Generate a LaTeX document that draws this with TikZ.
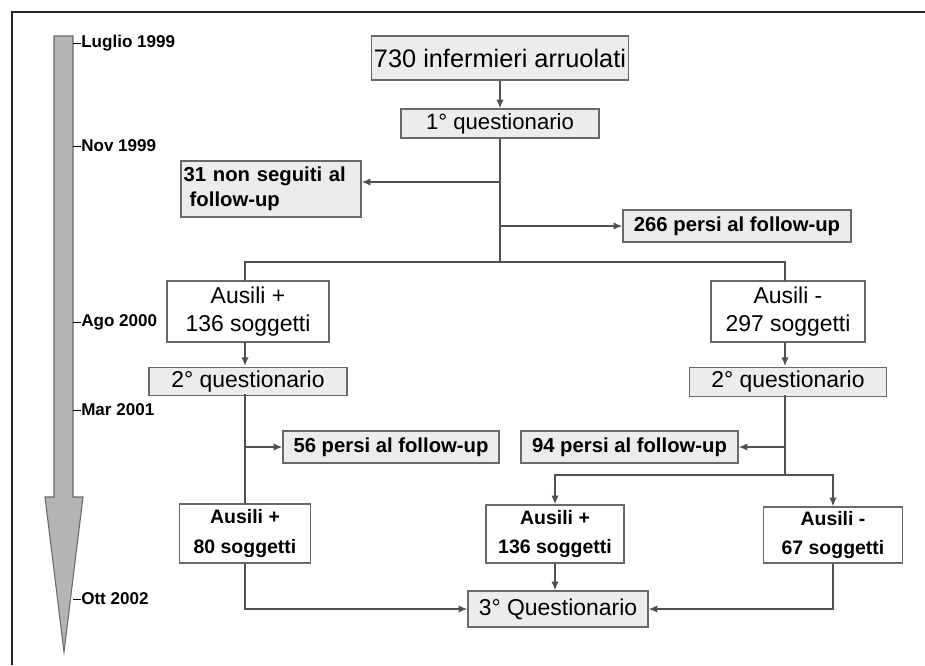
\documentclass[tikz,border=0pt]{standalone}
\usepackage{xcolor}
\usepackage{fontspec}
\setmainfont{Liberation Sans}
\usepackage{tikz}
\usetikzlibrary{arrows.meta, positioning, calc}

\definecolor{boxfill}{RGB}{236,236,236}
\definecolor{boxedge}{RGB}{105,105,105}
\definecolor{wireclr}{RGB}{80,80,80}
\definecolor{timefill}{RGB}{180,180,180}
\definecolor{timeedge}{RGB}{105,105,105}

\begin{document}
\begin{tikzpicture}[x=0.75pt, y=-0.75pt, >={Latex[length=6.5pt,width=5.5pt]}]
    \tikzset{
        greybox/.style={rectangle, draw=boxedge, fill=boxfill, line width=1pt, inner sep=2pt, align=center, font=\fontsize{16.6}{20}\selectfont},
        whitebox/.style={greybox, fill=white, font=\fontsize{17.2}{20.5}\selectfont},
        lostbox/.style={greybox, font=\fontsize{15.2}{19}\selectfont\bfseries},
        smallbox/.style={whitebox, font=\fontsize{14.6}{22}\selectfont\bfseries},
        line/.style={draw=wireclr, line width=1pt},
        arrowline/.style={line, ->},
        datelabel/.style={anchor=west, inner sep=0pt, font=\fontsize{12.8}{14}\selectfont\bfseries},
        datetick/.style={draw=black, line width=0.6pt}
    }
    \useasboundingbox (0,0) rectangle (925,665);
    \draw[line width=1pt, draw=black!85] (12,665) -- (12,12) -- (925,12);

    \draw[fill=timefill, draw=timeedge, line width=0.8pt] (54,36) -- (73,36) -- (73,497) -- (83,497) -- (64,652) -- (45,497) -- (54,497) -- cycle;
    \node (jul99) [datelabel] at (81,43) {Luglio 1999};
    \node (nov99) [datelabel] at (81,146) {Nov 1999};
    \node (ago00) [datelabel] at (81,322) {Ago 2000};
    \node (mar01) [datelabel] at (81,410) {Mar 2001};
    \node (ott02) [datelabel] at (81,599) {Ott 2002};
    \draw[datetick] (73,43) -- (jul99.west);
    \draw[datetick] (73,146) -- (nov99.west);
    \draw[datetick] (73,322) -- (ago00.west);
    \draw[datetick] (73,410) -- (mar01.west);
    \draw[datetick] (73,599) -- (ott02.west);

    \node (Enrolled) [greybox, minimum width=192pt, minimum height=33pt, font=\fontsize{19}{22}\selectfont] at (500,58) {730 infermieri arruolati};
    \node (Q1) [greybox, minimum width=148.5pt, minimum height=21.75pt] at (500,123.5) {1° questionario};
    \node (NotFollowed) [lostbox, align=left, text width=131pt, minimum height=42pt] at (271,189) {31 non seguiti al\\\hspace{0.3em}follow-up};
    \node (Lost266) [lostbox, minimum width=171pt, minimum height=24pt] at (737,226) {266 persi al follow-up};

    \node (AusPlus) [whitebox, minimum width=121.5pt, minimum height=45.75pt] at (248,311.5) {Ausili +\\136 soggetti};
    \node (Q2Plus) [greybox, font=\fontsize{17.2}{20}\selectfont, minimum width=148.5pt, minimum height=21pt, below=18pt of AusPlus] {2° questionario};
    \node (Lost56) [lostbox, minimum width=162pt, minimum height=24pt] at (391,447) {56 persi al follow-up};
    \node (AusPlus80) [smallbox, minimum width=98.25pt, minimum height=44.25pt] at (245,533.5) {Ausili +\\80 soggetti};

    \node (AusMinus) [whitebox, minimum width=115.5pt, minimum height=45.75pt] at (788,311.5) {Ausili -\\297 soggetti};
    \node (Q2Minus) [greybox, font=\fontsize{17.2}{20}\selectfont, minimum width=147.75pt, minimum height=21.75pt, below=18pt of AusMinus] {2° questionario};
    \node (Lost94) [lostbox, minimum width=162.75pt, minimum height=24pt] at (629.5,447) {94 persi al follow-up};
    \node (AusPlus136) [smallbox, minimum width=103.5pt, minimum height=43.5pt] at (555,534) {Ausili +\\136 soggetti};
    \node (AusMinus67) [smallbox, minimum width=104.25pt, minimum height=42pt] at (833,535) {Ausili -\\67 soggetti};

    \node (Q3) [greybox, font=\fontsize{17.2}{20}\selectfont, minimum width=135pt, minimum height=27pt] at (558,609) {3° Questionario};

    \coordinate (ToNotFollowed) at (500,182);
    \coordinate (ToLost266) at (500,226);
    \coordinate (Split1) at (500,262);
    \coordinate (ToLost56) at (245,447);
    \coordinate (ToLost94) at (785,447);
    \coordinate (Split2) at (785,475);

    \path [arrowline] (Enrolled) -- (Q1);
    \path [line] (Q1.south) -- (Split1);
    \path [arrowline] (ToNotFollowed) -- (ToNotFollowed -| NotFollowed.east);
    \path [arrowline] (ToLost266) -- (Lost266.west);
    \path [line] (Split1) -| (245,281);
    \path [line] (Split1) -| (785,281);
    \path [arrowline] (245,342) -- (245,366);
    \path [arrowline] (785,342) -- (785,366);
    \path [line] (245,394) -- (AusPlus80.north);
    \path [arrowline] (ToLost56) -- (Lost56.west);
    \path [arrowline] (AusPlus80.south) |- (Q3.west);
    \path [line] (785,395) -- (Split2);
    \path [arrowline] (ToLost94) -- (Lost94.east);
    \path [arrowline] (Split2) -| (AusPlus136.north);
    \path [arrowline] (Split2) -| (AusMinus67.north);
    \path [arrowline] (AusPlus136) -- (AusPlus136 |- Q3.north);
    \path [arrowline] (AusMinus67.south) |- (Q3.east);

\end{tikzpicture}
\end{document}
